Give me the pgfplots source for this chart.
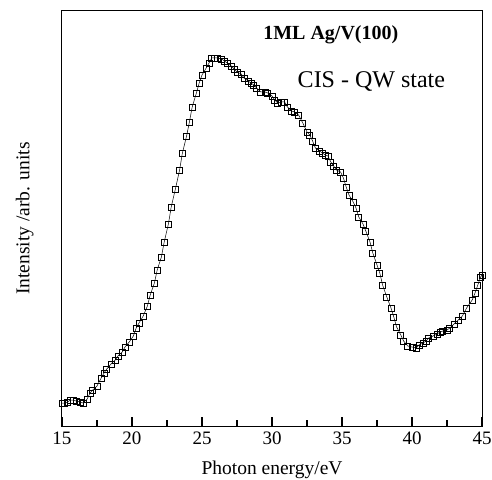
\documentclass[border=0pt]{standalone}
\usepackage{fontspec}
\setmainfont{Liberation Serif}
\usepackage{pgfplots}
\pgfplotsset{compat=1.18}
\begin{document}
\begin{tikzpicture}
\begin{axis}[%
at={(0pt,0pt)},
width=420pt,
height=415pt,
scale only axis,
xmin=15, xmax=45,
ymin=0, ymax=415,
xtick={15,20,...,45},
minor xtick={17.5,22.5,...,42.5},
xtick pos=left,
xtick align=inside,
ymajorticks=false,
axis line style={line width=1pt},
xtick style={draw=black, line width=1.6pt},
major tick length=9pt,
minor tick length=6pt,
/pgf/number format/assume math mode=true,
tick label style={font=\fontsize{19}{21}\selectfont},
xticklabel style={yshift=-2pt},
label style={font=\fontsize{19.5}{22}\selectfont},
xlabel={Photon energy/eV},
ylabel={Intensity /arb. units},
xlabel shift=10pt,
ylabel shift=25pt,
clip=false
]
\addplot[black, line width=0.5pt, mark=square, mark size=3pt,
  mark options={solid, line width=0.8pt, fill=white}] table {%
15.0 23
15.2 23
15.4 24
15.6 26
15.8 26
16.0 25
16.3 24
16.5 23
16.8 27
17.0 33
17.2 36
17.5 40
17.8 48
18.0 53
18.2 57
18.5 62
18.8 66
19.0 70
19.3 74
19.5 79
19.8 84
20.1 90
20.3 98
20.5 103
20.8 110
21.1 120
21.3 131
21.6 143
21.8 156
22.1 169
22.3 184
22.6 202
22.8 219
23.1 237
23.4 256
23.6 273
23.9 290
24.1 304
24.3 319
24.6 333
24.8 343
25.0 351
25.3 358
25.5 363
25.7 368
25.9 368
26.1 368
26.4 367
26.6 365
26.8 363
27.1 360
27.3 357
27.5 354
27.8 352
28.0 348
28.3 345
28.5 343
28.7 341
28.9 338
29.2 334
29.5 334
29.7 333
30.0 330
30.2 326
30.4 323
30.7 324
30.9 324
31.1 319
31.4 315
31.6 314
31.9 311
32.2 303
32.5 294
32.7 291
32.9 285
33.1 278
33.4 275
33.6 273
33.8 271
34.0 270
34.2 264
34.4 260
34.6 256
34.9 254
35.1 248
35.3 239
35.5 231
35.8 224
36.0 218
36.2 209
36.5 202
36.7 195
37.0 184
37.2 173
37.5 161
37.7 153
37.9 141
38.2 129
38.5 118
38.7 109
38.9 99
39.2 91
39.4 85
39.7 80
40.0 79
40.3 78
40.5 81
40.8 83
41.0 85
41.2 88
41.5 90
41.8 92
42.0 94
42.2 95
42.5 96
42.7 98
43.0 102
43.3 106
43.6 110
43.9 118
44.3 126
44.5 133
44.7 141
44.9 149
45.0 151
};
\node[font=\fontsize{20}{22}\selectfont\bfseries] at (axis cs:34.2,391) {1ML Ag/V(100)};
\node[font=\fontsize{24}{26}\selectfont] at (axis cs:37.1,344) {CIS - QW state};
\end{axis}
\pgfresetboundingbox
\path (-62pt,-53pt) rectangle (430pt,426pt);
\end{tikzpicture}
\end{document}
